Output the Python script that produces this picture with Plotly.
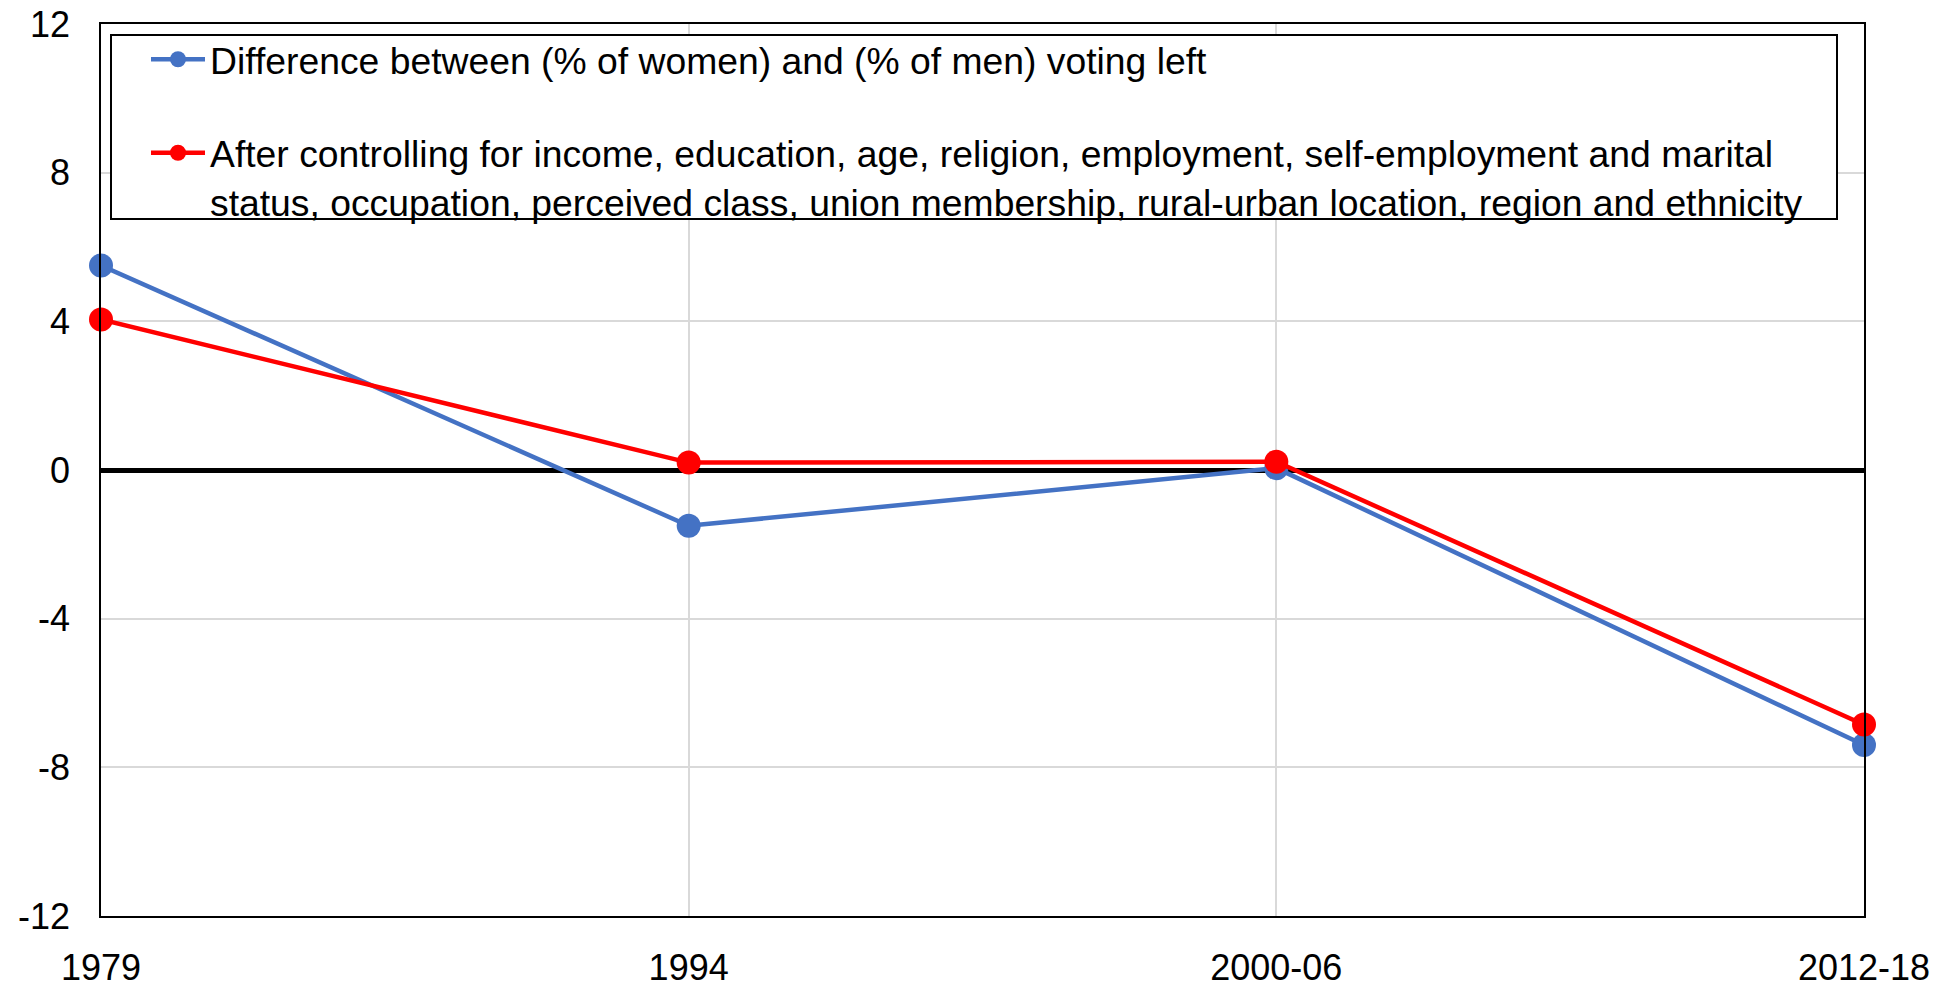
import plotly.graph_objects as go

periods = ["1979", "1994", "2000-06", "2012-18"]
raw_gap = [5.5, -1.5, 0.05, -7.4]
controlled_gap = [4.05, 0.2, 0.22, -6.85]
y_ticks = [-12, -8, -4, 0, 4, 8, 12]

name_raw = "Difference between (% of women) and (% of men) voting left"
name_ctrl = ("After controlling for income, education, age, religion, employment, self-employment and marital<br>"
             "status, occupation, perceived class, union membership, rural-urban location, region and ethnicity")

FONT = "Liberation Sans, Arial, sans-serif"
FS = 36
x_idx = list(range(len(periods)))

fig = go.Figure()
fig.add_trace(go.Scatter(
    x=x_idx, y=raw_gap, name=name_raw, mode="lines+markers",
    line=dict(color="#4472C4", width=4.5), marker=dict(color="#4472C4", size=24),
    cliponaxis=False, legendgroup="a"))
fig.add_trace(go.Scatter(
    x=x_idx, y=controlled_gap, name=name_ctrl, mode="lines+markers",
    line=dict(color="#FF0000", width=4.5), marker=dict(color="#FF0000", size=24),
    cliponaxis=False, legendgroup="b"))

# page body has an 8px margin: work in figure coordinates (screen - 8)
OFF = 8
W, H = 1953 - OFF, 989 - OFF
L, R, T, B = 101 - OFF, 1864 - OFF, 24 - OFF, 916 - OFF
pw, ph = R - L, B - T

def px(x):
    return (x - OFF - L) / pw

def py(y):
    return (B - (y - OFF)) / ph

# legend frame (screen coordinates of the reference)
fig.add_shape(type="rect", xref="paper", yref="paper",
              x0=px(111), x1=px(1837), y0=py(219), y1=py(35),
              line=dict(color="black", width=2), fillcolor="white", layer="above")

fig.update_layout(
    width=W, height=H,
    margin=dict(l=L, r=W - R, t=T, b=H - B, autoexpand=False),
    paper_bgcolor="white", plot_bgcolor="white",
    font=dict(family=FONT, size=FS, color="black"),
    showlegend=True,
    legend=dict(x=px(146), y=py(28.5), xanchor="left", yanchor="top",
                bgcolor="rgba(0,0,0,0)", borderwidth=0, valign="top",
                font=dict(family=FONT, size=37.3, color="black"),
                tracegroupgap=42, itemwidth=54),
    xaxis=dict(range=[0, 3], tickmode="array", tickvals=x_idx, ticktext=periods,
               showgrid=True, gridcolor="#D9D9D9", gridwidth=1.5,
               showline=True, linecolor="black", linewidth=1.5, mirror=True,
               ticks="", ticklabelstandoff=19, zeroline=False, automargin=False,
               ticklabeloverflow="allow",
               tickfont=dict(family=FONT, size=FS, color="black")),
    yaxis=dict(range=[-12, 12], tickmode="array", tickvals=y_ticks,
               ticktext=[str(v) for v in y_ticks],
               showgrid=True, gridcolor="#D9D9D9", gridwidth=1.5,
               showline=True, linecolor="black", linewidth=1.5, mirror=True,
               zeroline=True, zerolinecolor="black", zerolinewidth=5,
               ticks="", ticklabelstandoff=22, automargin=False,
               ticklabeloverflow="allow",
               tickfont=dict(family=FONT, size=FS, color="black")),
)

fig.write_html("out.html")
